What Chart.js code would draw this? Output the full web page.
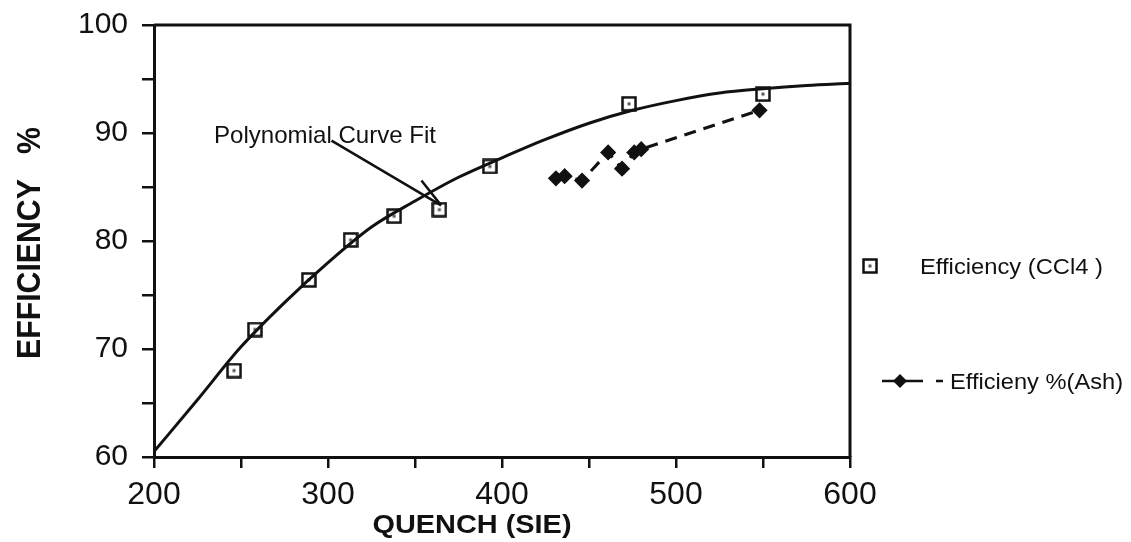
<!DOCTYPE html>
<html>
<head>
<meta charset="utf-8">
<script src="https://cdn.jsdelivr.net/npm/chart.js@4.4.1/dist/chart.umd.min.js"></script>
<style>
  body { margin: 0; background: #fff; }
  #wrap { width: 1131px; height: 542px; position: relative; }
</style>
</head>
<body>
<div id="wrap"><canvas id="quench-chart"></canvas></div>
<script>
// polynomial fit curve
var fitX = [200, 225, 250, 275, 300, 325, 350, 375, 400, 425, 450, 475, 500, 525, 550, 575, 600];
var fitY = [60.5, 65.3, 70.2, 74.3, 78.0, 81.3, 83.7, 85.9, 87.7, 89.4, 90.9, 92.1, 93.0, 93.7, 94.1, 94.4, 94.6];

// Efficiency (CCl4) squares
var cclX = [246, 258, 289, 313, 338, 364, 393, 473, 550];
var cclY = [68.0, 71.8, 76.4, 80.1, 82.3, 82.9, 86.9, 92.7, 93.6];

// Efficieny %(Ash) diamonds
var ashX = [431, 436, 446, 461, 469, 476, 480, 548];
var ashY = [85.8, 86.0, 85.6, 88.2, 86.7, 88.2, 88.5, 92.1];

var xTicks = [200, 300, 400, 500, 600];
var yTicks = [60, 70, 80, 90, 100];

var labelFit = 'Polynomial Curve Fit';
var labelCcl = 'Efficiency (CCl4 )';
var labelAsh = 'Efficieny %(Ash)';
var titleX = 'QUENCH (SIE)';
var titleY = 'EFFICIENCY   %';

var FONT = '"Liberation Sans", Arial, Helvetica, sans-serif';

function pairs(xs, ys) {
    return xs.map(function (x, i) { return { x: x, y: ys[i] }; });
}

// square marker with a small dot inside
function makeSquare(size) {
    var c = document.createElement('canvas');
    c.width = size; c.height = size;
    var g = c.getContext('2d');
    g.fillStyle = '#fff';
    g.fillRect(0, 0, size, size);
    g.strokeStyle = '#111';
    g.lineWidth = 2.5;
    g.strokeRect(1.5, 1.5, size - 3, size - 3);
    g.fillStyle = '#555';
    g.fillRect(size / 2 - 1.5, size / 2 - 1.5, 3, 3);
    return c;
}
var squareImg = makeSquare(16);

function fitText(ctx, text, x, y, size, weight, width, align) {
    ctx.save();
    ctx.font = weight + ' ' + size + 'px ' + FONT;
    var w = ctx.measureText(text).width;
    var s = width / w;
    ctx.translate(x, y);
    ctx.scale(s, 1);
    ctx.textAlign = align || 'left';
    ctx.fillText(text, 0, 0);
    ctx.restore();
}

var extras = {
    id: 'extras',
    afterDraw: function (chart) {
        var ctx = chart.ctx;
        var a = chart.chartArea;
        var xs = chart.scales.x, ys = chart.scales.y;
        ctx.save();
        ctx.strokeStyle = '#111';
        ctx.fillStyle = '#111';
        // frame top and right
        ctx.lineWidth = 3;
        ctx.beginPath();
        ctx.moveTo(a.left, a.top);
        ctx.lineTo(a.right, a.top);
        ctx.lineTo(a.right, a.bottom);
        ctx.stroke();

        // annotation text + arrow
        ctx.textBaseline = 'alphabetic';
        fitText(ctx, labelFit, xs.getPixelForValue(234.5), ys.getPixelForValue(89.1), 24, 'normal', 222);
        var tx = xs.getPixelForValue(302), ty = ys.getPixelForValue(89.3);
        var hx = xs.getPixelForValue(365), hy = ys.getPixelForValue(83.3);
        var bx = xs.getPixelForValue(353.7), by = ys.getPixelForValue(85.6);
        ctx.lineWidth = 2.5;
        ctx.beginPath();
        ctx.moveTo(tx, ty);
        ctx.lineTo(hx, hy);
        ctx.moveTo(hx, hy);
        ctx.lineTo(bx, by);
        ctx.stroke();

        // axis titles
        ctx.save();
        ctx.translate(31, 243);
        ctx.rotate(-Math.PI / 2);
        ctx.textBaseline = 'middle';
        fitText(ctx, titleY, 0, 0, 34, 'bold', 232, 'center');
        ctx.restore();
        ctx.textBaseline = 'alphabetic';
        fitText(ctx, titleX, 472, 533, 26, 'bold', 199, 'center');

        // legend
        ctx.drawImage(squareImg, 862, 258);
        fitText(ctx, labelCcl, 920, 274, 22, 'normal', 183);
        ctx.lineWidth = 2.5;
        ctx.beginPath();
        ctx.moveTo(882, 381);
        ctx.lineTo(923, 381);
        ctx.moveTo(936, 381);
        ctx.lineTo(943, 381);
        ctx.stroke();
        ctx.beginPath();
        ctx.moveTo(900, 374); ctx.lineTo(907, 381); ctx.lineTo(900, 388); ctx.lineTo(893, 381);
        ctx.closePath();
        ctx.fill();
        fitText(ctx, labelAsh, 950, 389, 22, 'normal', 173);
        ctx.restore();
    }
};

var config = {
    type: 'scatter',
    data: {
        datasets: [
            {
                label: labelFit,
                data: pairs(fitX, fitY),
                showLine: true,
                borderColor: '#111',
                borderWidth: 3,
                pointRadius: 0,
                cubicInterpolationMode: 'monotone',
                fill: false
            },
            {
                label: labelCcl,
                data: pairs(cclX, cclY),
                showLine: false,
                pointStyle: squareImg,
                pointRadius: 8
            },
            {
                label: labelAsh,
                data: pairs(ashX, ashY),
                showLine: true,
                borderColor: '#111',
                borderWidth: 3,
                borderDash: [12, 8],
                pointStyle: 'rectRot',
                pointRadius: 6,
                pointBackgroundColor: '#111',
                pointBorderColor: '#111',
                fill: false
            }
        ]
    },
    options: {
        responsive: true,
        maintainAspectRatio: false,
        animation: false,
        layout: { padding: { top: 25, right: 281, left: 0, bottom: 0 } },
        plugins: { legend: { display: false }, tooltip: { enabled: false } },
        scales: {
            x: {
                type: 'linear',
                min: 200, max: 600,
                afterFit: function (s) { s.height = 85; },
                ticks: {
                    stepSize: 50,
                    color: '#111',
                    padding: 8,
                    font: { family: FONT, size: 32 },
                    callback: function (v) { return xTicks.indexOf(v) >= 0 ? String(v) : ''; }
                },
                grid: { drawOnChartArea: false, color: '#111', lineWidth: 2.5, tickLength: 11 },
                border: { color: '#111', width: 3 }
            },
            y: {
                type: 'linear',
                min: 60, max: 100,
                afterFit: function (s) {
                    s.width = 154;
                    s.paddingTop = 0;
                    s.paddingBottom = 0;
                },
                ticks: {
                    stepSize: 5,
                    color: '#111',
                    padding: 14,
                    font: { family: FONT, size: 30 },
                    callback: function (v) { return yTicks.indexOf(v) >= 0 ? String(v) : ''; }
                },
                grid: { drawOnChartArea: false, color: '#111', lineWidth: 2.5, tickLength: 12 },
                border: { color: '#111', width: 3 }
            }
        }
    },
    plugins: [extras]
};

new Chart(document.getElementById('quench-chart'), config);
</script>
</body>
</html>
